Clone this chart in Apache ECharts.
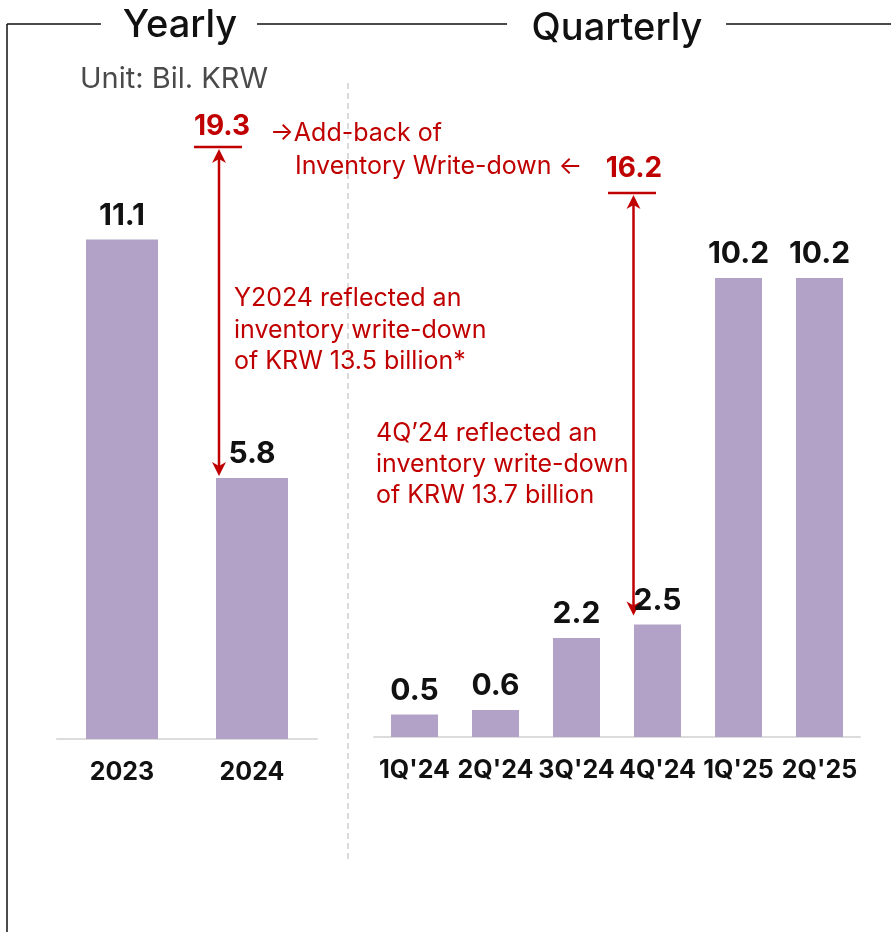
<!DOCTYPE html>
<html>
<head>
<meta charset="utf-8">
<script src="https://cdn.jsdelivr.net/npm/echarts@6/dist/echarts.min.js"></script>
<style>
  html, body { margin: 0; padding: 0; background: #fff; }
  #chart { width: 891px; height: 932px; }
</style>
</head>
<body>
<div id="chart"></div>
<script>
// Operating profit, Bil. KRW
const yearCategories = ['2023', '2024'];
const yearValues = [11.1, 5.8];
const quarterCategories = ["1Q'24", "2Q'24", "3Q'24", "4Q'24", "1Q'25", "2Q'25"];
const quarterValues = [0.5, 0.6, 2.2, 2.5, 10.2, 10.2];
// Figures after adding back the inventory write-down
const addBackYear = 19.3;
const addBackQuarter = 16.2;
const writeDownYear = 13.5;
const writeDownQuarter = 13.7;

const FONT = 'Inter, "Noto Sans", sans-serif';
const RED = '#c00000';
const BAR = '#b2a2c8';
const INK = '#111111';

const chart = echarts.init(document.getElementById('chart'), null, { renderer: 'canvas' });

const valueLabel = {
  show: true,
  position: 'top',
  distance: 9,
  color: INK,
  fontFamily: FONT,
  fontSize: 30,
  fontWeight: 'bold'
};

const catAxis = (gridIndex, data) => ({
  type: 'category',
  gridIndex,
  data,
  axisLine: { lineStyle: { color: '#dcdcdc', width: 2 } },
  axisTick: { show: false },
  axisLabel: { interval: 0, color: INK, fontFamily: FONT, fontSize: 25, fontWeight: 'bold', margin: 21 }
});

const valAxis = (gridIndex) => ({
  type: 'value',
  gridIndex,
  min: 0,
  max: 14,
  show: false,
  splitLine: { show: false }
});

chart.setOption({
  animation: false,
  grid: [
    { left: 57, width: 260, top: 109, height: 630 },
    { left: 374, width: 486, top: 107, height: 630 }
  ],
  xAxis: [catAxis(0, yearCategories), catAxis(1, quarterCategories)],
  yAxis: [valAxis(0), valAxis(1)],
  series: [
    {
      type: 'bar', xAxisIndex: 0, yAxisIndex: 0, data: yearValues,
      barWidth: 72, itemStyle: { color: BAR }, label: valueLabel
    },
    {
      type: 'bar', xAxisIndex: 1, yAxisIndex: 1, data: quarterValues,
      barWidth: 47, itemStyle: { color: BAR }, label: valueLabel
    }
  ]
});

// Pixel position of the top-left corner of a bar
function barCorner(gridIndex, cat, val, halfWidth) {
  const p = chart.convertToPixel({ xAxisIndex: gridIndex, yAxisIndex: gridIndex }, [cat, val]);
  return [p[0] - halfWidth, p[1]];
}

function arrowHead(x, y, dir) {
  // dir: -1 points up, 1 points down
  return {
    type: 'polygon',
    shape: { points: [[x, y], [x - 7, y - dir * 14], [x, y - dir * 10], [x + 7, y - dir * 14]] },
    style: { fill: RED },
    silent: true
  };
}

function redText(x, y, text, opts) {
  return {
    type: 'text',
    x, y,
    style: Object.assign({
      text,
      fill: RED,
      font: '25px ' + FONT,
      align: 'left',
      verticalAlign: 'middle'
    }, opts || {}),
    silent: true
  };
}

function hline(x1, x2, y, color, width) {
  return { type: 'line', shape: { x1, y1: y, x2, y2: y }, style: { stroke: color, lineWidth: width }, silent: true };
}
function vline(x, y1, y2, color, width, dash) {
  return { type: 'line', shape: { x1: x, y1, x2: x, y2 }, style: { stroke: color, lineWidth: width, lineDash: dash || null }, silent: true };
}

const yBar = barCorner(0, yearCategories[1], yearValues[1], 33);
const qBar = barCorner(1, quarterCategories[3], quarterValues[3], 24);

const leftArrowX = yBar[0];
const leftArrowTop = 149;
const leftArrowBottom = yBar[1] - 2;
const rightArrowX = qBar[0];
const rightArrowTop = 195;
const rightArrowBottom = qBar[1] - 9;

const graphics = [
  // section frame
  hline(7, 101, 24, INK, 1.5),
  hline(257, 507, 24, INK, 1.5),
  hline(726, 891, 24, INK, 1.5),
  vline(7, 24, 932, INK, 1.5),
  {
    type: 'text', x: 180, y: 26,
    style: { text: 'Yearly', fill: INK, font: '500 38px ' + FONT, align: 'center', verticalAlign: 'middle' },
    silent: true
  },
  {
    type: 'text', x: 617, y: 29,
    style: { text: 'Quarterly', fill: INK, font: '500 38px ' + FONT, align: 'center', verticalAlign: 'middle' },
    silent: true
  },
  {
    type: 'text', x: 80, y: 79,
    style: { text: 'Unit: Bil. KRW', fill: '#4a4a4a', font: '29px ' + FONT, align: 'left', verticalAlign: 'middle' },
    silent: true
  },
  // divider between yearly and quarterly
  vline(348, 83, 860, '#d0d0d0', 1.5, [6, 4]),

  // yearly add-back annotation
  redText(222, 127, String(addBackYear), { font: 'bold 28px ' + FONT, align: 'center' }),
  hline(194, 242, 147, RED, 2.5),
  vline(leftArrowX, leftArrowTop + 4, leftArrowBottom - 4, RED, 2.5),
  arrowHead(leftArrowX, leftArrowTop, -1),
  arrowHead(leftArrowX, leftArrowBottom, 1),
  redText(270, 133, '\u2192Add-back of'),
  redText(295, 166, 'Inventory Write-down \u2190'),
  redText(234, 298, 'Y2024 reflected an'),
  redText(234, 330, 'inventory write-down'),
  redText(234, 361, 'of KRW ' + writeDownYear + ' billion*'),

  // quarterly add-back annotation
  redText(634, 169, String(addBackQuarter), { font: 'bold 28px ' + FONT, align: 'center' }),
  hline(608, 656, 193, RED, 2.5),
  vline(rightArrowX, rightArrowTop + 4, rightArrowBottom - 4, RED, 2.5),
  arrowHead(rightArrowX, rightArrowTop, -1),
  arrowHead(rightArrowX, rightArrowBottom, 1),
  redText(376, 433, "4Q\u201924 reflected an"),
  redText(376, 464, 'inventory write-down'),
  redText(376, 495, 'of KRW ' + writeDownQuarter + ' billion')
];

chart.setOption({ graphic: graphics });
</script>
</body>
</html>
